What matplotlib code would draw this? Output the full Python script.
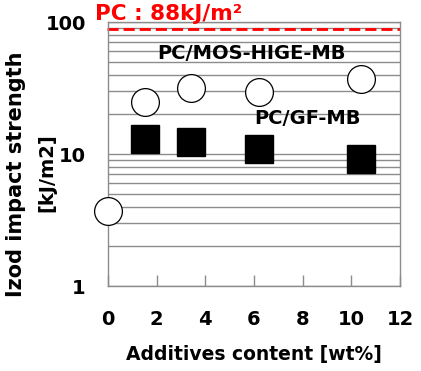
import matplotlib
matplotlib.use("Agg")
import matplotlib.pyplot as plt
from matplotlib.ticker import FixedLocator, NullFormatter

# data
mos_x = [0, 1.5, 3.4, 6.2, 10.4]
mos_y = [3.7, 24.8, 31.7, 29.4, 37.1]
gf_x = [1.5, 3.4, 6.2, 10.4]
gf_y = [13.1, 12.3, 11.0, 9.1]
pc_ref = 88
x_ticks = [0, 2, 4, 6, 8, 10, 12]
y_ticks = [1, 10, 100]

plt.rcParams["font.family"] = "DejaVu Sans"
plt.rcParams["font.weight"] = "bold"

fig = plt.figure(figsize=(4.21, 3.71), dpi=100)
ax = fig.add_axes([108 / 421, 85 / 371, 292 / 421, 264 / 371])

ax.set_yscale("log")
ax.set_xlim(0, 12)
ax.set_ylim(1, 100)

minor = [m * 10 ** e for e in (0, 1) for m in range(2, 10)]
ax.yaxis.set_major_locator(FixedLocator(y_ticks))
ax.yaxis.set_minor_locator(FixedLocator(minor))
ax.yaxis.set_minor_formatter(NullFormatter())
ax.set_yticks(y_ticks)
ax.set_yticklabels([str(v) for v in y_ticks])
ax.grid(True, which="both", axis="y", color="#8c8c8c", linewidth=1.0)
ax.set_axisbelow(True)

ax.set_xticks(x_ticks)
ax.tick_params(axis="x", direction="in", length=8, width=1, color="#8c8c8c",
               pad=17, labelsize=14)
ax.tick_params(axis="y", which="both", length=0, pad=16, labelsize=14)
for sp in ax.spines.values():
    sp.set_color("#8c8c8c")
    sp.set_linewidth(1.0)

ax.axhline(pc_ref, xmin=-0.005, color="#ff0000", linestyle=(0, (4, 1.8)),
           linewidth=2, clip_on=False)
ax.plot(mos_x, mos_y, linestyle="none", marker="o", markersize=20,
        markerfacecolor="white", markeredgecolor="black", markeredgewidth=0.9,
        clip_on=False, zorder=3)
ax.plot(gf_x, gf_y, linestyle="none", marker="s", markersize=20,
        markerfacecolor="black", markeredgecolor="black", clip_on=False, zorder=3)

ax.text(5.9, 58, "PC/MOS-HIGE-MB", ha="center", va="center", fontsize=14, fontweight="bold")
ax.text(8.2, 18.5, "PC/GF-MB", ha="center", va="center", fontsize=14, fontweight="bold")
fig.text(95 / 421, 1 - 20 / 371, "PC : 88kJ/m²", color="#ff0000",
         ha="left", va="baseline", fontsize=15.5, fontweight="bold")

ax.set_xlabel("Additives content [wt%]", fontsize=13.5, fontweight="bold", labelpad=12)
fig.text(16 / 421, 1 - 174 / 371, "Izod impact strength", rotation=90,
         ha="center", va="center", fontsize=15, fontweight="bold")
fig.text(47 / 421, 1 - 173 / 371, "[kJ/m2]", rotation=90,
         ha="center", va="center", fontsize=14, fontweight="bold")

fig.savefig("out.png", dpi=100)
